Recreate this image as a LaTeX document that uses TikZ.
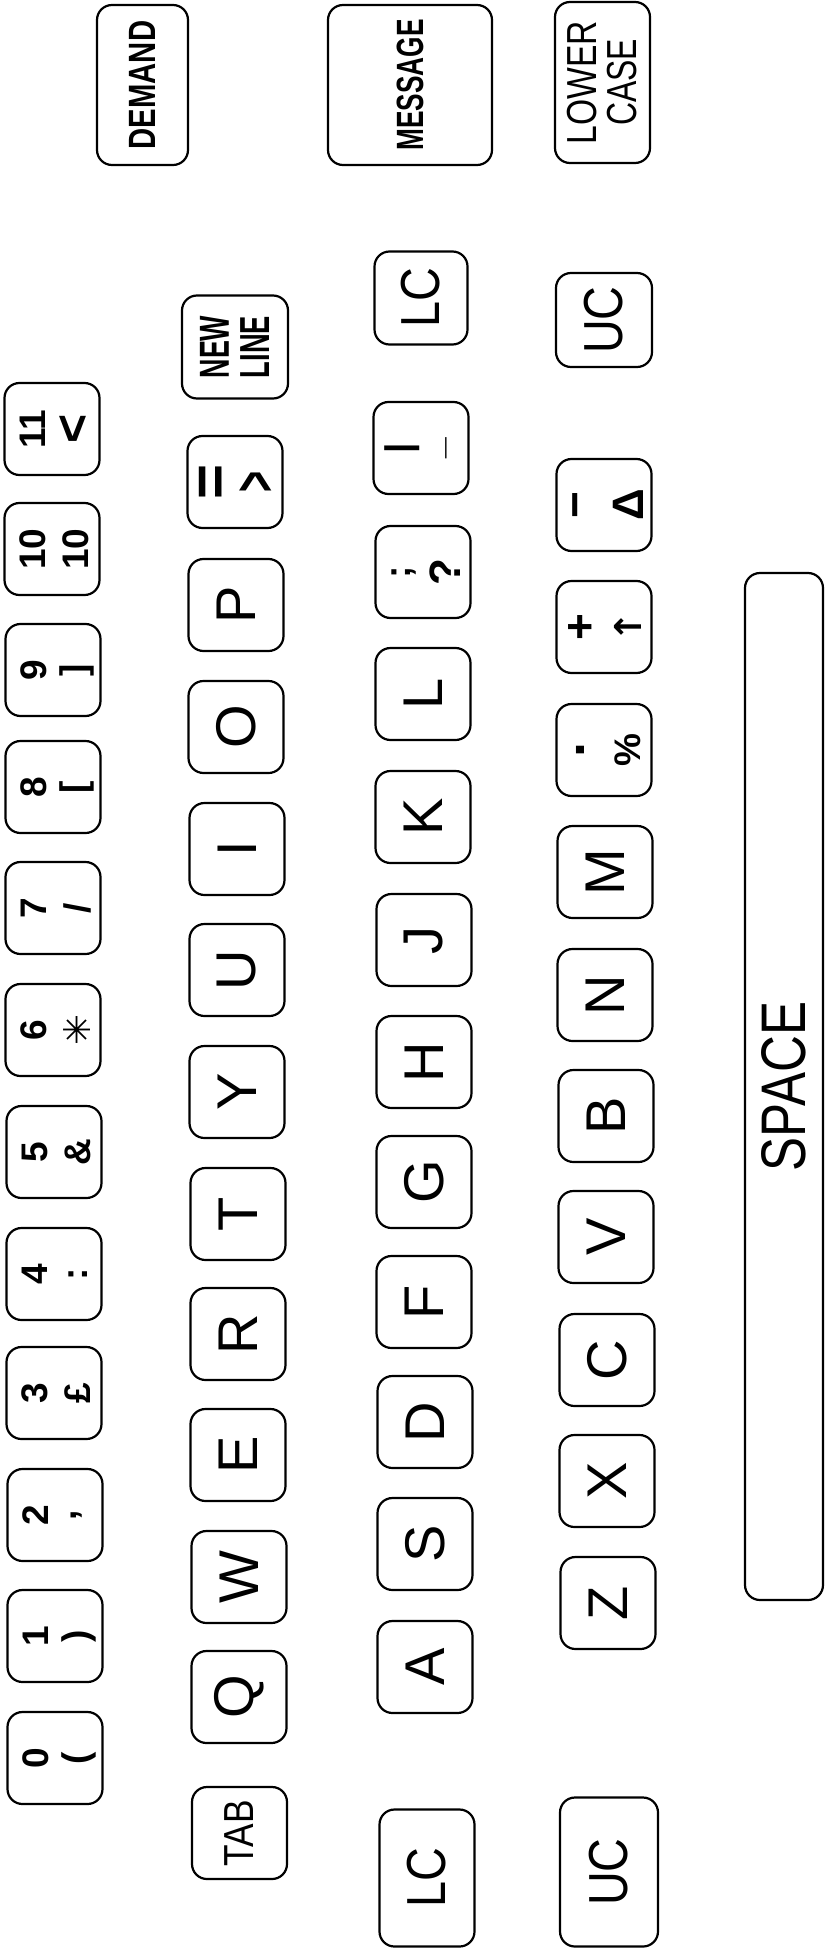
\documentclass[tikz,border=0pt]{standalone}
\usepackage{fontspec}
\usepackage{graphicx}
\setmainfont{Liberation Sans}
\newfontfamily\symfont{DejaVu Sans}
\newcommand\cnd[2]{\scalebox{#1}[1]{#2}}
\newcommand\Lf{\fontsize{56}{60}\selectfont}
\newcommand\Df{\fontsize{37}{40}\selectfont\bfseries}
\newcommand\twokey[7][-19pt]{%
  \node[key] (#2) at (#3,#4) {};
  \node[sym] (#2a) at ([xshift=#1]#2.center) {#5};
  \node[sym] (#2b) at ([xshift=#7]#2.center) {#6};
}
\begin{document}
\begin{tikzpicture}[x=1pt,y=-1pt,
  key/.style={draw, line width=2.2pt, rounded corners=15pt, inner sep=0pt,
    rotate=90, minimum width=92pt, minimum height=95pt, align=center},
  letter/.style={key, font=\Lf},
  sym/.style={rotate=90, inner sep=0pt, font=\Df}]
\useasboundingbox (0,0) rectangle (825,1950);

% number row
\twokey{k0}{55}{1758}{0}{(}{24pt}
\twokey{k1}{55}{1636}{1}{)}{24pt}
\twokey{k2}{55}{1515}{2}{,}{22pt}
\twokey{k3}{54}{1393}{3}{£}{24pt}
\twokey{k4}{54}{1274}{4}{:}{24pt}
\twokey{k5}{54}{1152}{5}{\&}{24pt}
\twokey{k6}{53}{1030}{6}{{\symfont ✳}}{24pt}
\twokey{k7}{53}{908}{7}{/}{24pt}
\twokey{k8}{53}{787}{8}{[}{24pt}
\twokey{k9}{53}{670}{9}{]}{24pt}
\twokey{k10}{52}{549}{10}{10}{24pt}
\twokey{k11}{52}{429}{11}{{\fontsize{50}{50}\selectfont <}}{22pt}

% top keys
\node[key, minimum width=160pt, minimum height=91pt,
  font=\fontsize{38}{40}\selectfont\bfseries] (demand) at (142.5,85) {\cnd{0.77}{DEMAND}};
\node[key, minimum width=160pt, minimum height=164pt,
  font=\fontsize{38}{40}\selectfont\bfseries] (message) at (410,85) {\cnd{0.69}{MESSAGE}};
\node[key, minimum width=161pt, minimum height=95pt,
  font=\fontsize{42}{40}\selectfont] (lower) at (602.5,82.5) {\cnd{0.8}{LOWER}\\\cnd{0.76}{CASE}};

% qwerty row
\node[key, font=\fontsize{42}{40}\selectfont] (tab) at (239.5,1833) {\cnd{0.84}{TAB}};
\node[letter] (kQ) at (239,1697) {Q};
\node[letter] (kW) at (239,1577) {W};
\node[letter] (kE) at (238,1455) {E};
\node[letter] (kR) at (238,1334) {R};
\node[letter] (kT) at (238,1214) {T};
\node[letter] (kY) at (237,1092) {Y};
\node[letter] (kU) at (237,970) {U};
\node[letter] (kI) at (237,849) {I};
\node[letter] (kO) at (236,727) {O};
\node[letter] (kP) at (236,605) {P};
\twokey[-20pt]{keq}{235}{482}{{\fontsize{60}{60}\selectfont =}}{\cnd{0.6}{\fontsize{60}{60}\selectfont >}}{22pt}
\node[key, minimum width=103pt, minimum height=106pt,
  font=\fontsize{42}{41}\selectfont\bfseries] (newline) at (235,347) {\cnd{0.64}{NEW}\\\cnd{0.65}{LINE}};

% home row
\node[key, minimum width=137pt, font=\fontsize{55}{55}\selectfont] (lcl) at (427,1878) {\cnd{0.85}{LC}};
\node[letter] (kA) at (425,1667) {A};
\node[letter] (kS) at (425,1544) {S};
\node[letter] (kD) at (425,1422) {D};
\node[letter] (kF) at (424,1302) {F};
\node[letter] (kG) at (424,1182) {G};
\node[letter] (kH) at (424,1062) {H};
\node[letter] (kJ) at (424,940) {J};
\node[letter] (kK) at (423,817) {K};
\node[letter] (kL) at (423,694) {L};
\twokey{ksc}{423}{572}{;}{{\fontsize{44}{44}\selectfont ?}}{22pt}
\twokey{kus}{421}{448}{|}{\_}{24pt}
\node[key, minimum width=93pt, minimum height=93pt, font=\fontsize{55}{55}\selectfont] (lcr) at (421,298) {\cnd{0.85}{LC}};

% bottom row
\node[key, minimum width=149pt, minimum height=98pt, font=\fontsize{55}{55}\selectfont] (ucl) at (609,1872) {\cnd{0.85}{UC}};
\node[letter] (kZ) at (608,1603) {Z};
\node[letter] (kX) at (607,1481) {X};
\node[letter] (kC) at (607,1360) {C};
\node[letter] (kV) at (606,1237) {V};
\node[letter] (kB) at (606,1116) {B};
\node[letter] (kN) at (605,995) {N};
\node[letter] (kM) at (605,872) {M};
\twokey[-24pt]{kdot}{604}{750}{{\fontsize{54}{54}\selectfont .}}{\%}{24pt}
\twokey[-22pt]{kplus}{604}{627}{{\fontsize{46}{46}\selectfont +}}{{\symfont\bfseries ↑}}{24pt}
\twokey[-22pt]{kmin}{604}{505}{{\fontsize{46}{46}\selectfont −}}{{\fontsize{44}{44}\selectfont Δ}}{24pt}
\node[key, minimum width=94pt, minimum height=96pt, font=\fontsize{55}{55}\selectfont] (ucr) at (604,320) {\cnd{0.85}{UC}};

% space bar
\node[key, minimum width=1027pt, minimum height=78pt, font=\fontsize{63}{63}\selectfont] (space) at (784,1086.5) {\cnd{0.81}{SPACE}};
\end{tikzpicture}
\end{document}
